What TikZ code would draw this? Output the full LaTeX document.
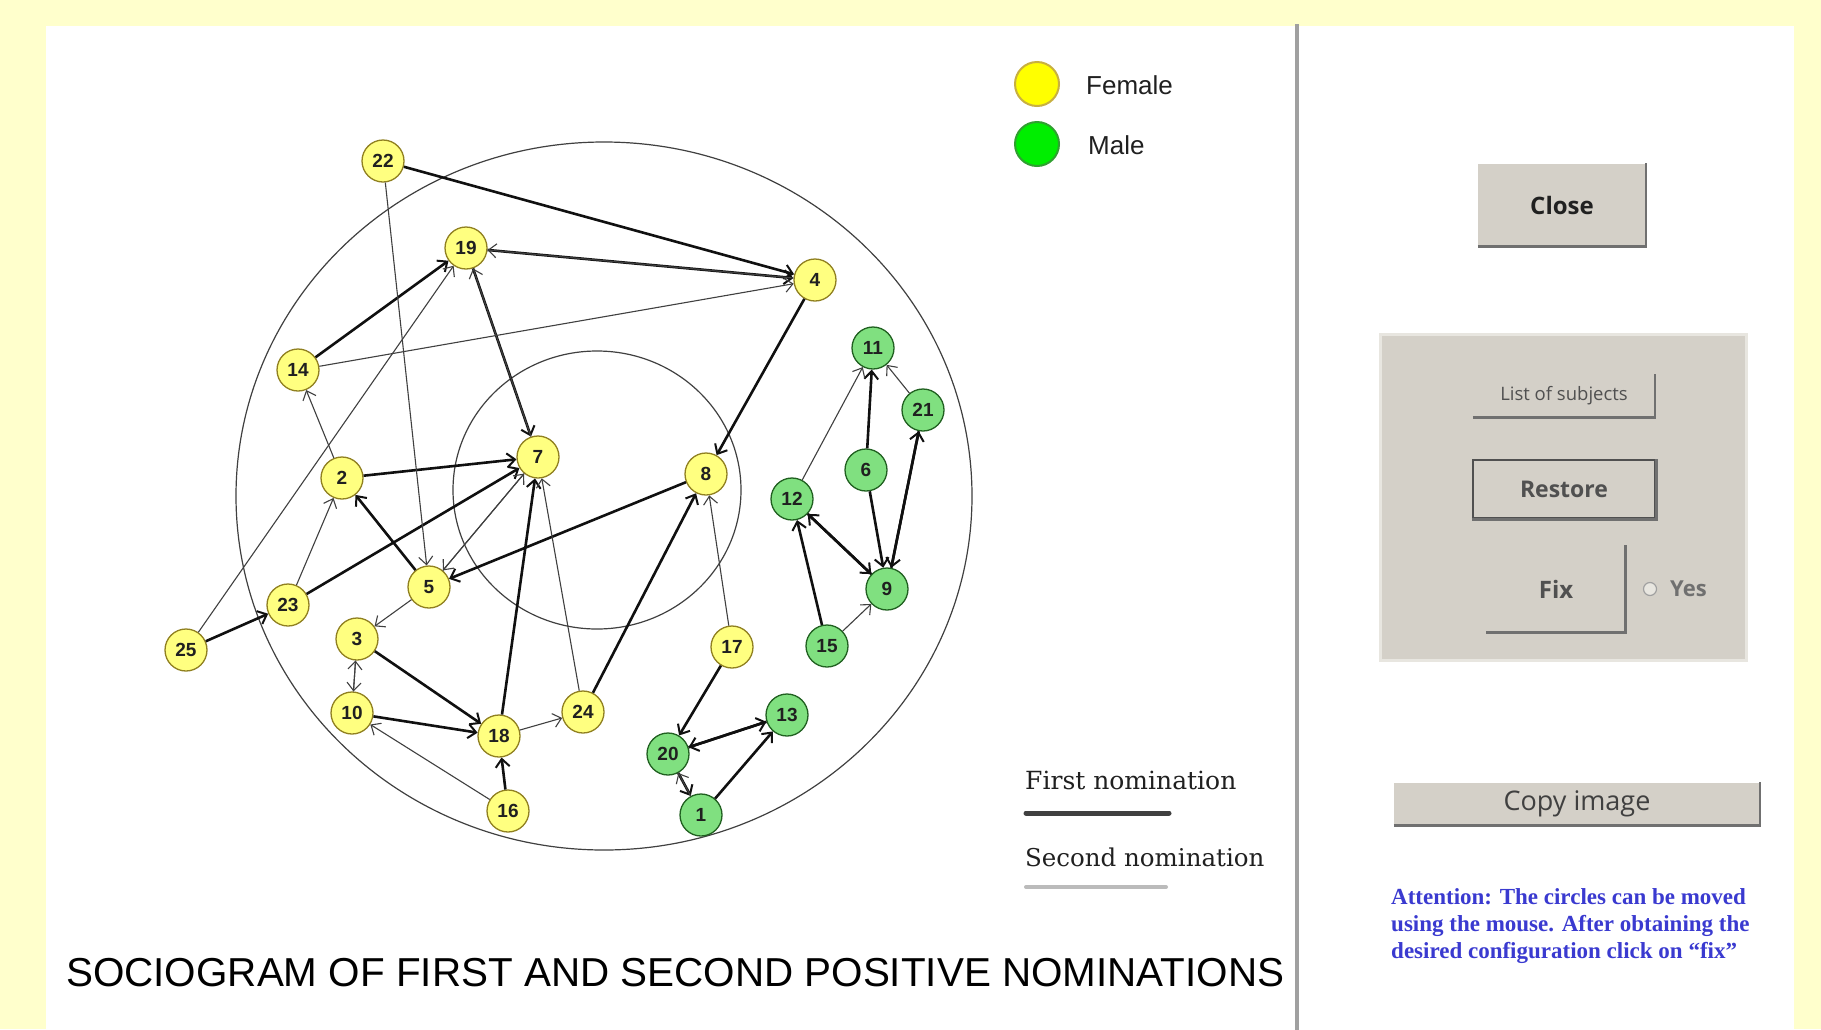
\documentclass[tikz,border=0pt]{standalone}
\usepackage{fontspec}
\setmainfont{Liberation Sans}
\newfontfamily\nomfont{DejaVu Serif}
\newfontfamily\notefont{Liberation Serif}
\newfontfamily\btnfont{Open Sans}
\usetikzlibrary{arrows.meta}

\begin{document}
\begin{tikzpicture}[x=1pt,y=-1pt,line cap=rect,
    fem/.style={circle, draw=custcol_90_80_20, fill=custcol_ff_ff_80, line width=1.3pt, minimum size=42pt, inner sep=0pt, text=custcol_20_20_20, font=\fontsize{19pt}{19pt}\bfseries\selectfont},
    mal/.style={fem, draw=custcol_20_60_20, fill=custcol_80_e0_80},
    first/.style={line width=2.6pt, custcol_10_10_10, line cap=butt, -{Straight Barb[length=8pt,width=14pt,line width=2pt]}},
    second/.style={line width=1.1pt, custcol_40_40_40, line cap=butt, -{Straight Barb[length=8pt,width=14pt,line width=1.1pt]}},
    btn/.style={draw=none, fill=custcol_d4_d0_c8, inner sep=0pt, text=custcol_50_50_50},
    btnshade/.style={line width=2.5pt, custcol_70_70_70, line cap=butt}]
\definecolor{custcol_ff_ff_cc}{RGB}{255, 255, 204}
\definecolor{custcol_ff_ff_80}{RGB}{255, 255, 128}
\definecolor{custcol_80_e0_80}{RGB}{128, 224, 128}
\definecolor{custcol_90_80_20}{RGB}{144, 128, 32}
\definecolor{custcol_20_60_20}{RGB}{32, 96, 32}
\definecolor{custcol_10_10_10}{RGB}{16, 16, 16}
\definecolor{custcol_20_20_20}{RGB}{32, 32, 32}
\definecolor{custcol_40_40_40}{RGB}{64, 64, 64}
\definecolor{custcol_50_50_50}{RGB}{80, 80, 80}
\definecolor{custcol_70_70_70}{RGB}{112, 112, 112}
\definecolor{custcol_a0_a0_a0}{RGB}{160, 160, 160}
\definecolor{custcol_bb_bb_bb}{RGB}{187, 187, 187}
\definecolor{custcol_d4_d0_c8}{RGB}{212, 208, 200}
\definecolor{custcol_e8_e6_e0}{RGB}{232, 230, 224}
\definecolor{custcol_ff_ff_00}{RGB}{255, 255, 0}
\definecolor{custcol_c8_b0_40}{RGB}{200, 176, 64}
\definecolor{custcol_00_ee_00}{RGB}{0, 238, 0}
\definecolor{custcol_30_a0_30}{RGB}{48, 160, 48}
\definecolor{custcol_3a_3a_d0}{RGB}{58, 58, 208}
% background and panel
\fill [custcol_ff_ff_cc] (0,0) rectangle (1821,1029);
\fill [white] (46,26) rectangle (1794,1029);
\useasboundingbox (0,0) rectangle (1821,1029);
\draw [line width=3.5pt, custcol_a0_a0_a0] (1297,26) -- (1297,1029);
% rings
\draw [line width=1.2pt, custcol_40_40_40] (604,496) ellipse (368 and 354);
\draw [line width=1.2pt, custcol_40_40_40] (597,490) ellipse (144 and 139);
% subjects
\node[fem] (n22) at (383,161) {22};
\node[fem] (n19) at (466,248) {19};
\node[fem] (n4) at (815,280) {4};
\node[fem] (n14) at (298,370) {14};
\node[mal] (n11) at (873,348) {11};
\node[mal] (n21) at (923,410) {21};
\node[mal] (n6) at (866,470) {6};
\node[fem] (n7) at (538,457) {7};
\node[fem] (n2) at (342,478) {2};
\node[fem] (n8) at (706,474) {8};
\node[mal] (n12) at (792,499) {12};
\node[mal] (n9) at (887,589) {9};
\node[fem] (n5) at (429,587) {5};
\node[fem] (n23) at (288,605) {23};
\node[fem] (n25) at (186,650) {25};
\node[fem] (n3) at (357,639) {3};
\node[fem] (n17) at (732,647) {17};
\node[mal] (n15) at (827,646) {15};
\node[fem] (n10) at (352,713) {10};
\node[fem] (n24) at (583,712) {24};
\node[fem] (n18) at (499,736) {18};
\node[mal] (n13) at (787,715) {13};
\node[mal] (n20) at (668,754) {20};
\node[fem] (n16) at (508,811) {16};
\node[mal] (n1) at (701,815) {1};
% first nominations
\draw[first] (n22) -- (n4);
\draw[first] (n19) -- (n4);
\draw[first] (n14) -- (n19);
\draw[first] (n19) -- (n7);
\draw[first] (n2) -- (n7);
\draw[first] (n5) -- (n2);
\draw[first] (n23) -- (n7);
\draw[first] (n25) -- (n23);
\draw[first] (n8) -- (n5);
\draw[first] (n4) -- (n8);
\draw[first] (n24) -- (n8);
\draw[first] (n17) -- (n20);
\draw[first] (n18) -- (n7);
\draw[first] (n3) -- (n18);
\draw[first] (n10) -- (n18);
\draw[first] (n16) -- (n18);
\draw[first] (n20) -- (n13);
\draw[first] (n13) -- (n20);
\draw[first] (n20) -- (n1);
\draw[first] (n1) -- (n13);
\draw[first] (n6) -- (n11);
\draw[first] (n6) -- (n9);
\draw[first] (n9) -- (n21);
\draw[first] (n21) -- (n9);
\draw[first] (n12) -- (n9);
\draw[first] (n9) -- (n12);
\draw[first] (n15) -- (n12);
% second nominations
\draw[second] (n22) -- (n5);
\draw[second] (n4) -- (n19);
\draw[second] (n14) -- (n4);
\draw[second] (n7) -- (n19);
\draw[second] (n2) -- (n14);
\draw[second] (n23) -- (n2);
\draw[second] (n25) -- (n19);
\draw[second] (n17) -- (n8);
\draw[second] (n24) -- (n7);
\draw[second] (n5) -- (n7);
\draw[second] (n7) -- (n5);
\draw[second] (n5) -- (n3);
\draw[second] (n3) -- (n10);
\draw[second] (n10) -- (n3);
\draw[second] (n16) -- (n10);
\draw[second] (n18) -- (n24);
\draw[second] (n1) -- (n20);
\draw[second] (n12) -- (n11);
\draw[second] (n21) -- (n11);
\draw[second] (n15) -- (n9);
% legend
\node[circle, draw=custcol_c8_b0_40, fill=custcol_ff_ff_00, line width=2pt, minimum size=44pt] (fkey) at (1037,84) {};
\node[circle, draw=custcol_30_a0_30, fill=custcol_00_ee_00, line width=2pt, minimum size=44pt] (mkey) at (1037,144) {};
\node[anchor=west, inner sep=0, text=custcol_20_20_20, font=\fontsize{26pt}{26pt}\selectfont] (ftxt) at (1086,85) {Female};
\node[anchor=west, inner sep=0, text=custcol_20_20_20, font=\fontsize{26pt}{26pt}\selectfont] (mtxt) at (1088,145) {Male};
\node[anchor=west, inner sep=0, text=custcol_20_20_20, font=\nomfont\fontsize{25pt}{25pt}\selectfont] (firstkey) at (1025,780) {First nomination};
\draw [line width=5pt, custcol_40_40_40, line cap=round] (1026,813) -- (1169,813);
\node[anchor=west, inner sep=0, text=custcol_20_20_20, font=\nomfont\fontsize{24.5pt}{24.5pt}\selectfont] (secondkey) at (1025,857) {Second nomination};
\draw [line width=4pt, custcol_bb_bb_bb, line cap=round] (1026,887) -- (1166,887);
\node[anchor=west, inner sep=0, font=\fontsize{40.4pt}{40.4pt}\selectfont] (title) at (66,973) {SOCIOGRAM OF FIRST AND SECOND POSITIVE NOMINATIONS};
% right panel
\node[btn, minimum width=168pt, minimum height=83pt, text=custcol_20_20_20, font=\btnfont\fontsize{24pt}{24pt}\bfseries\selectfont] (close) at (1562,205) {Close};
\draw[btnshade] (close.south west) -- (close.south east) -- (close.north east);
\node[btn, draw=custcol_e8_e6_e0, line width=3pt, minimum width=366pt, minimum height=326pt] (group) at (1563,497) {};
\node[btn, minimum width=182pt, minimum height=43pt, font=\btnfont\fontsize{18.5pt}{18.5pt}\selectfont] (listsub) at (1564,396) {List of subjects};
\draw[btnshade] (listsub.south west) -- (listsub.south east) -- (listsub.north east);
\node[btn, draw=custcol_50_50_50, line width=2.5pt, minimum width=182pt, minimum height=58pt, font=\btnfont\fontsize{23pt}{23pt}\bfseries\selectfont] (restore) at (1564,489) {Restore};
\draw[btnshade, line width=3.5pt] (restore.south west) -- (restore.south east) -- (restore.north east);
\node[btn, minimum width=139pt, minimum height=87pt, font=\btnfont\fontsize{24pt}{24pt}\bfseries\selectfont] (fix) at (1556,589) {Fix};
\draw[btnshade] (fix.south west) -- (fix.south east) -- (fix.north east);
\node[circle, draw=custcol_a0_a0_a0, fill=custcol_e8_e6_e0, line width=1.2pt, minimum size=13pt, inner sep=0] (radio) at (1650,589) {};
\node[anchor=west, inner sep=0, text=custcol_70_70_70, font=\btnfont\fontsize{22pt}{22pt}\bfseries\selectfont] (yes) at (1670,589) {Yes};
\node[btn, minimum width=366pt, minimum height=43pt, text=custcol_40_40_40, font=\btnfont\fontsize{27pt}{27pt}\selectfont] (copyimg) at (1577,804) {Copy image};
\draw[btnshade] (copyimg.south west) -- (copyimg.south east) -- (copyimg.north east);
\node[anchor=north west, inner sep=0, align=left, text=custcol_3a_3a_d0, font=\notefont\fontsize{23pt}{27pt}\bfseries\selectfont] (note) at (1391,888) {Attention: The circles can be moved\\using the mouse. After obtaining the\\desired configuration click on “fix”};
\end{tikzpicture}
\end{document}
